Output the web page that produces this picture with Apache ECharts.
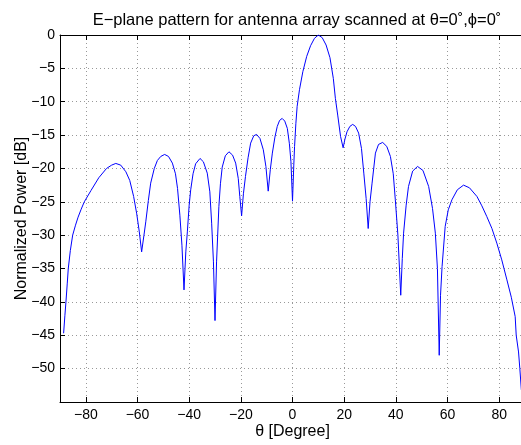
<!DOCTYPE html>
<html>
<head>
<meta charset="utf-8">
<script src="https://cdn.jsdelivr.net/npm/echarts@6/dist/echarts.min.js"></script>
<style>html,body{margin:0;padding:0;background:#fff}#c{width:521px;height:445px}</style>
</head>
<body>
<div id="c"></div>
<script>
var thetaDeg = [
-88.6,-88.1,-87.7,-87.2,-86.8,-86.0,-85.1,-84.0,-83.0,-81.8,-80.6,-78.0,-75.0,-72.0,-70.0,-68.4,-66.5,-64.5,-63.0,-61.5,-60.3,-59.3,-58.4,
-57.5,-56.8,-55.8,-54.9,-53.5,-52.3,-51.0,-49.5,-48.0,-46.5,-45.3,-44.5,-43.6,-42.8,-42.0,
-41.3,-40.7,-40.0,-39.4,-38.5,-37.5,-35.8,-34.5,-33.0,-32.0,-31.3,-30.6,-30.0,
-29.4,-28.5,-27.9,-27.2,-26.0,-24.6,-23.2,-22.0,-21.0,-20.4,-19.7,
-19.0,-18.2,-17.2,-16.2,-15.0,-13.9,-12.6,-11.3,-10.3,-9.4,
-8.6,-7.8,-6.8,-5.9,-5.0,-4.0,-3.0,-2.0,-1.2,-0.6,0.0,
0.5,0.8,1.3,1.8,2.7,4.0,5.5,7.0,8.5,10.0,11.5,13.0,14.5,15.8,16.6,17.5,18.6,19.6,
20.3,21.1,22.2,23.3,24.4,25.6,26.7,27.6,28.5,29.3,
30.0,30.8,32.1,33.3,34.9,36.5,37.9,39.0,39.8,40.8,41.9,
42.5,43.0,44.0,44.9,46.5,48.4,50.5,52.7,54.2,55.3,56.1,56.8,
57.3,57.9,59.1,60.3,61.7,63.8,66.2,68.5,71.4,73.3,75.2,77.2,79.1,81.0,83.0,84.7,86.2,86.6,87.5,88.0,88.6
];
var powerDb = [
-44.7,-42.0,-40.0,-37.3,-35.0,-32.3,-30.0,-28.5,-27.3,-26.1,-25.0,-23.3,-21.4,-20.0,-19.5,-19.25,-19.5,-20.5,-21.8,-24.2,-26.8,-29.5,-32.5,
-30.0,-28.0,-24.8,-22.2,-20.0,-18.8,-18.2,-17.9,-18.2,-19.2,-20.8,-23.0,-27.0,-31.5,-38.2,
-32.5,-29.5,-25.5,-23.2,-20.8,-19.3,-18.5,-19.0,-20.7,-23.5,-28.2,-34.0,-42.8,
-34.0,-25.7,-22.3,-19.8,-18.1,-17.5,-18.0,-19.2,-21.5,-24.2,-27.1,
-23.8,-21.2,-18.4,-16.2,-15.1,-14.9,-15.5,-17.2,-19.7,-23.4,
-20.2,-17.7,-15.3,-13.7,-12.8,-12.5,-12.9,-14.0,-16.3,-19.0,-24.9,
-19.5,-16.7,-13.3,-10.7,-8.2,-5.5,-3.2,-1.6,-0.5,0.0,-0.4,-1.5,-3.4,-6.5,-9.5,-12.0,-15.2,-16.9,
-15.6,-14.5,-13.7,-13.4,-13.7,-14.7,-17.0,-20.7,-24.5,-29.0,
-25.0,-22.2,-17.7,-16.4,-16.1,-16.7,-18.2,-20.8,-24.7,-30.0,-39.0,
-33.5,-29.7,-25.5,-22.7,-20.4,-19.7,-20.3,-22.7,-26.0,-29.7,-35.0,-48.0,
-39.0,-34.7,-28.7,-26.2,-24.7,-23.2,-22.5,-22.9,-24.2,-25.6,-27.2,-29.0,-31.2,-33.7,-36.7,-39.3,-42.2,-45.0,-47.5,-50.0,-53.2
];
var titleText = 'E\u2212plane pattern for antenna array scanned at \u03b8=0\u02da,\u03d5=0\u02da';
var xName = '\u03b8 [Degree]';
var yName = 'Normalized Power [dB]';

var pts = thetaDeg.map(function(t, i){ return [t, powerDb[i]]; });
var fam = 'Liberation Sans, Arial, Helvetica, sans-serif';
function fmt(v){ return String(v).replace('-', '\u2212'); }
var chart = echarts.init(document.getElementById('c'), null, {renderer:'canvas'});
chart.setOption({
  animation: false,
  backgroundColor: '#fff',
  title: {
    text: titleText, left: 292, top: 7, textAlign: 'center',
    textStyle: {fontFamily: fam, fontSize: 16.5, fontWeight: 'normal', color: '#000'}
  },
  grid: {left: 60, top: 35, width: 465, height: 367, containLabel: false, outerBoundsMode: 'none'},
  xAxis: [{
    type: 'value', min: -90, max: 90, splitNumber: 9, position: 'bottom',
    name: xName, nameLocation: 'middle', nameGap: 22, nameMoveOverlap: false,
    nameTextStyle: {fontFamily: fam, fontSize: 16, color: '#000'},
    axisLine: {show: true, onZero: false, lineStyle: {color: '#000', width: 1}},
    axisTick: {show: true, inside: true, length: 5, lineStyle: {color: '#000'}},
    axisLabel: {fontFamily: fam, fontSize: 14, color: '#000', margin: 6, formatter: fmt, showMinLabel: false, showMaxLabel: false},
    splitLine: {show: true, lineStyle: {color: '#999', type: [1, 3], width: 1}}
  }, {
    type: 'value', min: -90, max: 90, splitNumber: 9, position: 'top',
    axisLine: {show: true, onZero: false, lineStyle: {color: '#000', width: 1}},
    axisTick: {show: true, inside: true, length: 5, lineStyle: {color: '#000'}},
    axisLabel: {show: false}, splitLine: {show: false}
  }],
  yAxis: [{
    type: 'value', min: -55, max: 0, interval: 5,
    name: yName, nameLocation: 'middle', nameGap: 30, nameRotate: 90, nameMoveOverlap: false,
    nameTextStyle: {fontFamily: fam, fontSize: 16, color: '#000'},
    axisLine: {show: true, onZero: false, lineStyle: {color: '#000', width: 1}},
    axisTick: {show: true, inside: true, length: 5, lineStyle: {color: '#000'}},
    axisLabel: {fontFamily: fam, fontSize: 14, color: '#000', margin: 5, formatter: fmt, showMinLabel: false},
    splitLine: {show: true, lineStyle: {color: '#999', type: [1, 3], width: 1}}
  }],
  series: [{
    type: 'line', data: pts, xAxisIndex: 0, yAxisIndex: 0,
    showSymbol: false, symbol: 'none', smooth: false,
    lineStyle: {color: '#0000ff', width: 1}
  }]
});
</script>
</body>
</html>
